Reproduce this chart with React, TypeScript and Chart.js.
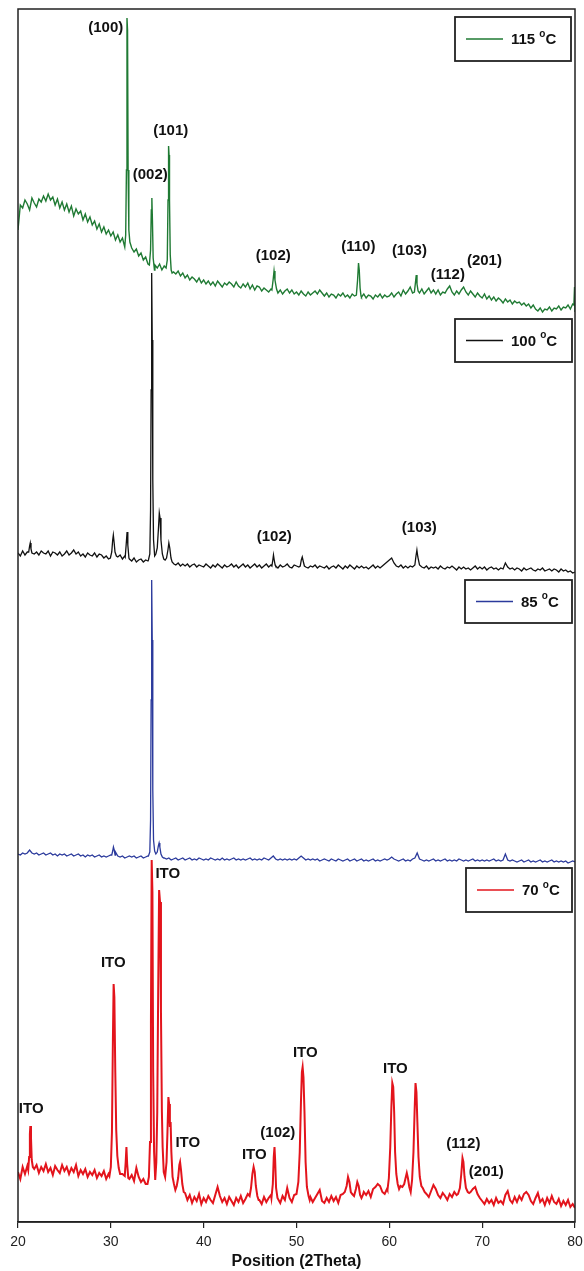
import { useEffect, useRef } from 'react';
import { Chart, registerables } from 'chart.js';

Chart.register(...registerables);

// ---------- DATA ----------
// x axis: 2Theta (degrees)
const X_MIN = 20;
const X_MAX = 80;
const X_TICK_STEP = 10;
const X_TITLE = 'Position (2Theta)';

// baseline scans sampled every 0.25 deg from 20 to 80 (intensity, a.u. above each trace's own zero)
const GRID_START = 20;
const GRID_STEP = 0.25;

// temperatures (legend) and vertical stacking offsets (a.u.)
const TEMPS = ['115', '100', '85', '70'];
const COLORS = ['#1f7a33', '#111111', '#2b3a9c', '#e3141c'];
const OFFSETS = [902, 632, 342, 0];

const GREEN_115_BASE = [
  90, 115, 112, 120,
  116, 110, 122, 117,
  113, 121, 118, 124,
  119, 126, 120, 123,
  115, 121, 112, 118,
  110, 116, 108, 114,
  104, 111, 106, 109,
  100, 106, 98, 103,
  95, 99, 91, 96,
  88, 93, 86, 90,
  84, 88, 80, 85,
  78, 82, 74, 80,
  80, 72, 68, 71,
  64, 67, 60, 63,
  56, 60, 60, 55,
  52, 56, 50, 54,
  50, 60, 60, 48,
  46, 49, 44, 47,
  42, 45, 40, 43,
  41, 38, 42, 37,
  40, 36, 39, 35,
  38, 34, 39, 36,
  33, 37, 35, 38,
  36, 33, 38, 34,
  32, 36, 33, 37,
  31, 35, 30, 34,
  33, 29, 32, 30,
  28, 31, 40, 30,
  27, 30, 26, 29,
  31, 27, 30, 26,
  28, 25, 29, 26,
  24, 28, 25, 27,
  29, 26, 30, 27,
  24, 27, 23, 26,
  25, 22, 26, 24,
  27, 23, 25, 22,
  26, 24, 40, 25,
  23, 26, 22, 25,
  24, 21, 25, 23,
  26, 22, 25, 23,
  24, 27, 23, 26,
  28, 24, 30, 26,
  29, 33, 27, 40,
  30, 27, 31, 26,
  29, 32, 27, 30,
  26, 30, 25, 28,
  27, 31, 34, 28,
  25, 29, 26, 30,
  33, 28, 25, 29,
  26, 23, 27, 24,
  22, 26, 21, 24,
  20, 23, 19, 22,
  20, 17, 21, 18,
  20, 16, 19, 17,
  18, 15, 17, 14,
  16, 12, 15, 11,
  9, 12, 8, 11,
  10, 13, 9, 12,
  11, 14, 10, 13,
  12, 15, 11, 16,
  7,
];
const GREEN_115_PEAKS = [
  [[31.5, 73], [31.6, 85], [31.68, 150], [31.74, 302], [31.8, 290], [31.86, 150], [31.94, 90], [32.05, 78]],
  [[34.15, 55], [34.28, 70], [34.36, 110], [34.42, 122], [34.48, 100], [34.56, 62], [34.7, 50]],
  [[35.95, 52], [36.08, 60], [36.16, 120], [36.22, 174], [36.27, 165], [36.32, 120], [36.4, 65], [36.5, 50], [36.6, 47]],
  [[47.35, 30], [47.48, 40], [47.58, 49], [47.68, 40], [47.85, 31]],
  [[56.45, 25], [56.58, 40], [56.68, 57], [56.76, 50], [56.85, 32], [56.95, 24]],
  [[62.7, 28], [62.82, 38], [62.9, 45], [62.98, 36], [63.1, 29]],
  [[79.88, 15], [79.95, 33], [80, 8]],
];

const BLACK_100_BASE = [
  37, 34, 39, 35,
  38, 46, 39, 36,
  38, 35, 39, 37,
  36, 39, 34, 38,
  37, 35, 38, 34,
  36, 39, 35, 37,
  40, 36, 38, 34,
  36, 33, 37, 35,
  34, 37, 33, 36,
  35, 32, 34, 31,
  33, 50, 40, 33,
  35, 31, 34, 45,
  31, 29, 32, 28,
  30, 31, 28, 30,
  29, 60, 60, 40,
  40, 70, 40, 30,
  30, 40, 30, 26,
  25, 27, 24, 26,
  24, 26, 23, 25,
  26, 23, 25, 24,
  23, 26, 24, 22,
  25, 23, 26, 24,
  22, 25, 23, 24,
  26, 23, 25, 22,
  24, 26, 23, 25,
  22, 24, 26, 23,
  25, 22, 24, 26,
  23, 25, 33, 24,
  22, 25, 23, 24,
  26, 23, 22, 25,
  24, 23, 31, 25,
  23, 22, 24, 23,
  25, 22, 24, 23,
  22, 24, 21, 23,
  24, 22, 25, 23,
  21, 24, 22, 25,
  23, 21, 24, 22,
  24, 22, 23, 21,
  23, 25, 22, 24,
  22, 24, 26, 28,
  30, 32, 27, 24,
  23, 25, 22, 24,
  22, 24, 23, 26,
  30, 26, 23, 22,
  24, 21, 23, 22,
  23, 21, 24, 22,
  21, 23, 22, 24,
  22, 20, 23, 21,
  23, 21, 22, 20,
  22, 24, 21, 23,
  21, 23, 20, 22,
  23, 21, 22, 20,
  22, 21, 27, 23,
  21, 22, 20, 22,
  21, 19, 22, 20,
  21, 22, 20, 19,
  21, 20, 22, 19,
  20, 21, 19, 21,
  20, 18, 21, 19,
  20, 18, 19, 17,
  18,
];
const BLACK_100_PEAKS = [
  [[21.15, 38], [21.25, 44], [21.32, 47], [21.4, 41], [21.5, 37]],
  [[29.95, 32], [30.1, 38], [30.2, 50], [30.27, 55], [30.35, 48], [30.45, 38], [30.6, 34]],
  [[31.55, 33], [31.65, 45], [31.75, 58], [31.83, 45], [31.95, 32]],
  [[34.05, 30], [34.2, 36], [34.28, 80], [34.34, 200], [34.4, 317], [34.46, 250], [34.52, 110], [34.6, 50],
   [34.72, 34], [34.85, 36], [35.0, 42], [35.12, 60], [35.22, 77], [35.3, 72], [35.4, 50], [35.55, 36],
   [35.7, 31], [35.85, 30], [36.0, 32], [36.15, 40], [36.25, 47], [36.35, 42], [36.48, 32], [36.6, 28], [36.8, 26]],
  [[47.35, 24], [47.45, 30], [47.52, 35], [47.6, 30], [47.7, 25]],
  [[50.4, 24], [50.52, 30], [50.62, 33], [50.72, 29], [50.85, 24]],
  [[62.75, 25], [62.87, 34], [62.97, 40], [63.07, 33], [63.25, 25]],
];

const BLUE_85_BASE = [
  26, 25, 27, 26,
  27, 30, 27, 26,
  27, 25, 26, 27,
  25, 26, 27, 25,
  26, 24, 26, 25,
  26, 24, 25, 26,
  24, 25, 26, 24,
  25, 23, 25, 24,
  25, 23, 24, 25,
  23, 24, 23, 24,
  25, 30, 28, 24,
  23, 24, 22, 23,
  24, 23, 24, 22,
  23, 24, 22, 23,
  24, 60, 60, 28,
  28, 37, 24, 22,
  21, 22, 20, 21,
  22, 20, 21, 22,
  20, 21, 22, 20,
  21, 20, 22, 21,
  20, 21, 20, 22,
  21, 20, 21, 20,
  22, 20, 21, 20,
  21, 22, 20, 21,
  20, 21, 20, 21,
  22, 20, 21, 20,
  21, 20, 22, 21,
  20, 22, 24, 21,
  20, 21, 20, 21,
  20, 21, 20, 21,
  20, 22, 24, 22,
  20, 21, 20, 21,
  20, 21, 19, 20,
  21, 20, 19, 21,
  20, 19, 21, 20,
  19, 20, 21, 19,
  20, 21, 19, 20,
  21, 19, 20, 19,
  20, 21, 19, 20,
  19, 20, 21, 20,
  21, 23, 21, 20,
  19, 20, 21, 19,
  20, 19, 21, 22,
  27, 21, 20, 19,
  20, 19, 20, 21,
  19, 20, 19, 20,
  21, 19, 20, 19,
  20, 19, 21, 20,
  19, 20, 19, 20,
  21, 19, 20, 19,
  20, 19, 20, 19,
  20, 21, 19, 20,
  19, 20, 26, 20,
  19, 20, 19, 18,
  19, 20, 18, 19,
  20, 18, 19, 18,
  19, 20, 18, 19,
  18, 19, 20, 18,
  19, 18, 19, 18,
  19, 17, 18, 19,
  18,
];
const BLUE_85_PEAKS = [
  [[30.1, 25], [30.2, 29], [30.28, 33], [30.36, 30], [30.46, 25]],
  [[34.05, 24], [34.2, 28], [34.28, 60], [34.34, 180], [34.4, 300], [34.46, 240], [34.52, 90], [34.6, 40],
   [34.72, 29], [34.85, 26], [35.0, 28], [35.12, 34], [35.2, 37], [35.28, 33], [35.4, 26], [35.55, 23], [35.7, 22]],
];

const RED_70_BASE = [
  50, 43, 55, 48,
  56, 60, 58, 53,
  57, 49, 55, 51,
  58, 50, 54, 47,
  56, 52, 49, 57,
  51, 55, 48, 54,
  50, 57, 46, 52,
  48, 53, 45, 50,
  47, 52, 44, 49,
  46, 51, 43, 48,
  60, 200, 120, 50,
  44, 48, 45, 60,
  43, 47, 41, 54,
  45, 40, 43, 38,
  37, 300, 60, 40,
  100, 300, 70, 60,
  80, 120, 90, 40,
  35, 40, 55, 35,
  30, 22, 27, 19,
  25, 21, 28, 18,
  24, 20, 26, 22,
  19, 27, 35, 26,
  20, 24, 18, 25,
  21, 17, 24, 20,
  26, 19, 23, 28,
  40, 55, 45, 26,
  22, 18, 25, 20,
  24, 27, 70, 40,
  24, 19, 26, 22,
  34, 24, 20, 27,
  30, 100, 150, 60,
  40, 30, 25, 20,
  24, 28, 32, 21,
  19, 24, 20, 26,
  21, 25, 19, 27,
  28, 32, 45, 40,
  28, 26, 40, 30,
  24, 30, 27, 31,
  25, 33, 35, 38,
  36, 30, 28, 33,
  75, 139, 110, 48,
  36, 38, 33, 44,
  44, 34, 70, 139,
  100, 45, 36, 34,
  28, 25, 31, 37,
  33, 27, 24, 29,
  26, 22, 28, 25,
  30, 27, 28, 50,
  60, 40, 30, 30,
  33, 35, 28, 24,
  21, 18, 23, 19,
  22, 17, 24, 19,
  21, 18, 27, 31,
  22, 19, 25, 20,
  26, 22, 28, 30,
  27, 21, 18, 24,
  29, 20, 23, 17,
  24, 19, 26, 20,
  18, 23, 16, 21,
  17, 22, 15, 18,
  14,
];
const RED_70_PEAKS = [
  [[21.1, 52], [21.2, 65], [21.28, 88], [21.33, 96], [21.4, 84], [21.48, 62], [21.6, 55]],
  [[29.85, 46], [30.0, 55], [30.12, 90], [30.22, 180], [30.3, 238], [30.38, 225], [30.48, 150], [30.58, 92],
   [30.7, 66], [30.85, 54], [31.0, 48]],
  [[31.5, 46], [31.6, 60], [31.68, 75], [31.76, 58], [31.88, 44]],
  [[33.95, 38], [34.1, 45], [34.22, 80], [34.32, 200], [34.4, 362], [34.48, 330], [34.56, 150], [34.66, 70],
   [34.78, 42], [34.9, 60], [35.0, 110], [35.1, 230], [35.2, 332], [35.3, 320], [35.4, 210], [35.5, 110],
   [35.58, 75], [35.7, 50], [35.85, 45], [36.0, 60], [36.1, 90], [36.2, 125], [36.28, 118], [36.36, 95],
   [36.44, 100], [36.52, 70], [36.65, 45], [36.8, 38], [36.95, 32], [37.1, 36], [37.25, 44], [37.38, 57],
   [37.46, 60], [37.56, 52], [37.7, 38], [37.85, 30], [38.0, 29]],
  [[44.95, 26], [45.1, 34], [45.25, 48], [45.38, 55], [45.5, 50], [45.62, 36], [45.78, 26], [45.92, 22]],
  [[47.3, 24], [47.45, 38], [47.55, 65], [47.63, 75], [47.7, 62], [47.8, 34], [47.95, 24]],
  [[50.0, 28], [50.2, 40], [50.35, 70], [50.48, 120], [50.58, 150], [50.66, 155], [50.75, 145], [50.86, 110],
   [50.98, 60], [51.12, 35], [51.3, 26], [51.42, 22]],
  [[55.2, 30], [55.4, 36], [55.55, 45], [55.7, 40], [55.85, 30], [56.0, 28], [56.2, 26], [56.4, 33],
   [56.55, 40], [56.7, 36], [56.85, 27], [57.0, 24], [57.15, 27]],
  [[59.8, 32], [59.95, 44], [60.1, 75], [60.22, 115], [60.32, 139], [60.42, 135], [60.52, 110], [60.62, 70],
   [60.75, 48], [60.9, 38], [61.05, 33], [61.2, 36], [61.4, 35], [61.6, 38], [61.75, 44], [61.88, 49],
   [62.0, 44], [62.15, 35], [62.3, 30], [62.45, 42], [62.6, 70], [62.72, 110], [62.82, 139], [62.92, 130],
   [63.02, 100], [63.14, 65], [63.28, 45], [63.45, 36], [63.6, 34], [63.8, 30]],
  [[67.4, 28], [67.6, 34], [67.75, 48], [67.88, 64], [67.98, 60], [68.1, 45], [68.25, 34], [68.45, 30], [68.6, 29]],
];

// peak annotations: text, 2Theta, height on the stacked intensity axis
const ANN_TEXT = [
  '(100)', '(101)', '(002)', '(102)', '(110)', '(103)', '(112)', '(201)',
  '(102)', '(103)',
  'ITO', 'ITO', 'ITO', 'ITO', 'ITO', '(102)', 'ITO', 'ITO', '(112)', '(201)',
];
const ANN_X = [
  29.45, 36.45, 34.25, 47.5, 56.66, 62.16, 66.3, 70.24,
  47.6, 63.23,
  21.42, 30.26, 36.13, 38.29, 45.45, 47.99, 50.95, 60.65, 67.97, 70.45,
];
const ANN_Y = [
  1194, 1091, 1047, 966, 975, 971, 947, 961,
  685, 694,
  113, 259, 348, 79, 67, 89, 169, 153, 78, 50,
];

const Y_MAX = 1213;

type Pt = { x: number; y: number };

function buildTrace(base: number[], peaks: number[][][], offset: number): Pt[] {
  const pts: Pt[] = [];
  base.forEach((v, i) => {
    const x = GRID_START + i * GRID_STEP;
    const inPeak = peaks.some((seg) => x >= seg[0][0] && x <= seg[seg.length - 1][0]);
    if (!inPeak) pts.push({ x, y: v + offset });
  });
  peaks.forEach((seg) => seg.forEach(([x, y]) => pts.push({ x, y: y + offset })));
  pts.sort((a, b) => a.x - b.x);
  return pts;
}

const FONT = '"Liberation Sans", Arial, Helvetica, sans-serif';

// legend boxes placed relative to the chart area (right gap, top offset, width, height)
const LEGEND_LAYOUT = [
  { right: 4, top: 8, w: 116, h: 44 },
  { right: 3, top: 310, w: 117, h: 43 },
  { right: 3, top: 571, w: 107, h: 43 },
  { right: 3, top: 859, w: 106, h: 44 },
];

const overlayPlugin = {
  id: 'xrdOverlay',
  afterDatasetsDraw(chart: any) {
    const { ctx, chartArea: ca, scales } = chart;
    const xs = scales.x;
    const ys = scales.y;
    ctx.save();
    // frame
    ctx.strokeStyle = '#222';
    ctx.lineWidth = 1.5;
    ctx.strokeRect(ca.left, ca.top, ca.right - ca.left, ca.bottom - ca.top);

    // peak labels
    ctx.fillStyle = '#111';
    ctx.font = `bold 15px ${FONT}`;
    ctx.textAlign = 'center';
    ctx.textBaseline = 'middle';
    ANN_TEXT.forEach((t, i) => {
      ctx.fillText(t, xs.getPixelForValue(ANN_X[i]), ys.getPixelForValue(ANN_Y[i]));
    });

    // legends
    LEGEND_LAYOUT.forEach((lb, i) => {
      const left = ca.right - lb.right - lb.w;
      const top = ca.top + lb.top;
      ctx.fillStyle = '#fff';
      ctx.fillRect(left, top, lb.w, lb.h);
      ctx.strokeStyle = '#222';
      ctx.lineWidth = 1.8;
      ctx.strokeRect(left, top, lb.w, lb.h);
      const cy = top + lb.h / 2;
      ctx.strokeStyle = COLORS[i];
      ctx.lineWidth = 1.6;
      ctx.beginPath();
      ctx.moveTo(left + 11, cy);
      ctx.lineTo(left + 48, cy);
      ctx.stroke();
      ctx.fillStyle = '#111';
      ctx.textAlign = 'left';
      ctx.textBaseline = 'middle';
      ctx.font = `bold 15px ${FONT}`;
      let tx = left + 56;
      const num = TEMPS[i] + ' ';
      ctx.fillText(num, tx, cy + 1);
      tx += ctx.measureText(num).width;
      ctx.font = `bold 10px ${FONT}`;
      ctx.fillText('o', tx, cy - 5);
      tx += ctx.measureText('o').width;
      ctx.font = `bold 15px ${FONT}`;
      ctx.fillText('C', tx, cy + 1);
    });
    ctx.restore();
  },
};

export default function App() {
  const ref = useRef<HTMLCanvasElement | null>(null);

  useEffect(() => {
    if (!ref.current) return;
    const traces = [
      buildTrace(GREEN_115_BASE, GREEN_115_PEAKS, OFFSETS[0]),
      buildTrace(BLACK_100_BASE, BLACK_100_PEAKS, OFFSETS[1]),
      buildTrace(BLUE_85_BASE, BLUE_85_PEAKS, OFFSETS[2]),
      buildTrace(RED_70_BASE, RED_70_PEAKS, OFFSETS[3]),
    ];
    const widths = [1.4, 1.3, 1.3, 2.0];
    const chart = new Chart(ref.current, {
      type: 'line',
      data: {
        datasets: traces.map((d, i) => ({
          label: TEMPS[i] + ' °C',
          data: d,
          borderColor: COLORS[i],
          borderWidth: widths[i],
          pointRadius: 0,
          tension: 0,
          fill: false,
        })),
      },
      options: {
        animation: false,
        responsive: false,
        events: [],
        layout: { padding: { top: 9, left: 18, right: 9, bottom: 0 } },
        plugins: {
          legend: { display: false },
          tooltip: { enabled: false },
        },
        scales: {
          x: {
            type: 'linear',
            min: X_MIN,
            max: X_MAX,
            afterFit: (scale: any) => {
              scale.height = 49;
              scale.paddingLeft = 0;
              scale.paddingRight = 0;
            },
            ticks: {
              stepSize: X_TICK_STEP,
              autoSkip: false,
              maxRotation: 0,
              padding: 6,
              color: '#222',
              font: { family: FONT, size: 14 },
            },
            grid: {
              drawOnChartArea: false,
              drawTicks: true,
              tickLength: 6,
              color: '#222',
              lineWidth: 1.2,
            },
            border: { display: true, color: '#222', width: 1.5 },
            title: {
              display: true,
              text: X_TITLE,
              color: '#111',
              padding: 0,
              font: { family: FONT, size: 16, weight: 'bold' },
            },
          },
          y: {
            display: false,
            min: 0,
            max: Y_MAX,
          },
        },
      },
      plugins: [overlayPlugin],
    });
    return () => chart.destroy();
  }, []);

  return (
    <div style={{ position: 'absolute', left: 0, top: 0, width: 584, height: 1271, background: '#fff' }}>
      <canvas ref={ref} width={584} height={1271} style={{ display: 'block' }} />
    </div>
  );
}
